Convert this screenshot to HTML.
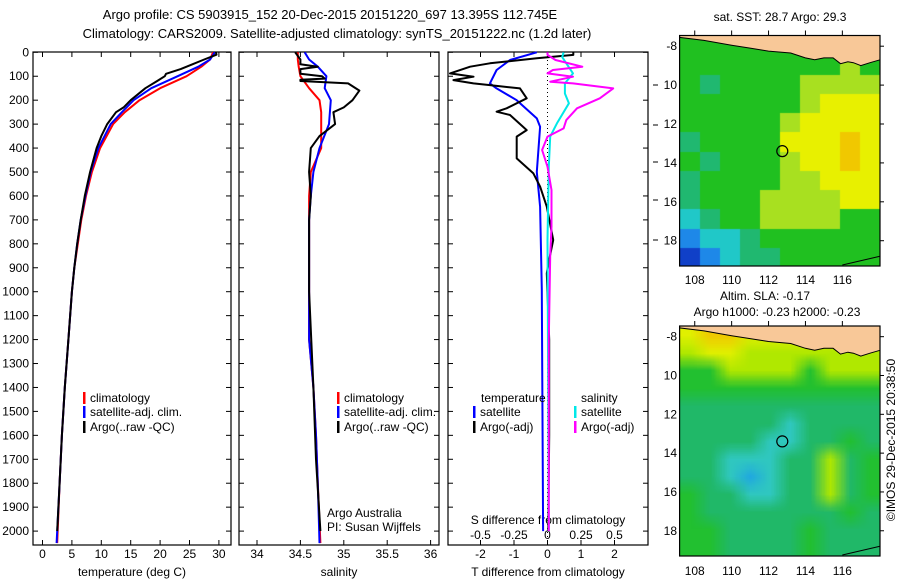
<!DOCTYPE html>
<html><head><meta charset="utf-8">
<style>
body{margin:0;background:#fff;}
svg{display:block;font-family:"Liberation Sans",sans-serif;}
text{fill:#000;}
</style></head>
<body>
<svg id="fig" width="900" height="580" viewBox="0 0 900 580">
<text x="330" y="19" font-size="13" text-anchor="middle">Argo profile: CS 5903915_152 20-Dec-2015 20151220_697 13.395S 112.745E</text>
<text x="337" y="38" font-size="13" text-anchor="middle">Climatology: CARS2009. Satellite-adjusted climatology: synTS_20151222.nc (1.2d later)</text>
<text x="780" y="21" font-size="12" text-anchor="middle">sat. SST: 28.7 Argo: 29.3</text>
<text x="765" y="300" font-size="12" text-anchor="middle">Altim. SLA: -0.17</text>
<text x="777" y="316" font-size="12" text-anchor="middle">Argo h1000: -0.23 h2000: -0.23</text>
<text transform="translate(895,440) rotate(-90)" font-size="12" text-anchor="middle">©IMOS 29-Dec-2015 20:38:50</text>
<g id="g"></g>
</svg>
<script>
// ---------- data ----------
const tempDepth = [0,10,30,50,70,90,100,120,150,200,230,250,300,350,400,500,600,700,800,900,1000,1200,1400,1600,1800,2000];
const tempArgo  = [29.5,29.6,27.5,25.5,23.5,21,20.8,19.5,17.5,15,13.8,12.5,11,10,9.2,8.1,7.2,6.5,5.9,5.4,5.0,4.4,3.8,3.3,2.9,2.5];
const climDepth = [0,30,60,100,150,200,250,300,400,500,600,700,800,900,1000,1200,1400,1600,1800,2050];
const tempClim  = [29,28.5,27,24.5,20,16.5,14,12,9.8,8.4,7.4,6.6,6.0,5.4,5.0,4.4,3.8,3.3,2.9,2.5];
const tempSat   = [29.3,28.5,26.5,23,18.5,15.5,13.5,11.6,9.5,8.2,7.3,6.5,5.9,5.4,5.0,4.4,3.8,3.3,2.9,2.4];
const salDepth = [0,30,50,60,70,90,100,110,115,120,130,160,200,230,250,300,350,400,500,600,700,1000,1400,1700,2000];
const salArgo  = [34.44,34.5,34.5,34.7,34.5,34.5,34.75,34.78,34.5,34.5,35.05,35.18,35.1,35.0,34.88,34.9,34.72,34.62,34.6,34.62,34.6,34.6,34.65,34.68,34.73];
const salClim  = [34.47,34.47,34.48,34.5,34.6,34.72,34.74,34.74,34.74,34.62,34.6,34.6,34.6,34.6,34.6,34.6,34.65,34.68,34.7,34.73];
const salSat   = [34.55,34.6,34.7,34.8,34.78,34.85,34.84,34.83,34.72,34.65,34.62,34.6,34.6,34.6,34.6,34.6,34.65,34.68,34.7,34.72];
const dtDepth = [0,11,25,46,60,88,102,116,130,137,151,192,234,248,262,325,352,443,506,561,645,784,854,923,1200,1600,2000];
const dtArgo  = [0.77,0.77,-0.32,-1.72,-2.31,-2.91,-2.21,-2.81,-2.21,-1.72,-0.82,-0.62,-1.22,-1.52,-1.12,-0.62,-0.92,-0.92,-0.42,-0.22,-0.02,0.17,0.07,-0.02,0.05,0.05,0.02];
const dtSatDepth = [0,32,74,130,151,200,276,311,500,645,990,2000];
const dtSat      = [-0.32,-1.12,-1.52,-1.72,-1.52,-0.92,-0.32,-0.22,-0.32,-0.22,-0.17,-0.13];
const dsSatDepth = [0,20,46,88,130,172,213,297,352,478,784,2000];
const dsSat      = [0.12,0.11,0.14,0.19,0.13,0.13,0.16,0.07,0.02,0.01,0.0,0.01];
const dsArgoDepth = [0,11,32,60,74,88,102,123,130,151,192,234,283,318,352,408,478,575,728,850,1200,2000];
const dsArgo      = [0.0,0.0,0.06,0.26,0.04,0.0,0.19,0.02,0.19,0.49,0.39,0.22,0.14,0.12,0.0,-0.04,0.0,0.03,0.03,0.02,0.01,0.01];
const depthTicks = [0,100,200,300,400,500,600,700,800,900,1000,1100,1200,1300,1400,1500,1600,1700,1800,1900,2000];
const tTicks = [0,5,10,15,20,25,30];
const sTicks = [34,34.5,35,35.5,36];
const sTickLabels = ["34","34.5","35","35.5","36"];
const dTTicks = [-2,-1,0,1,2];
const dSTicks = [-0.5,-0.25,0,0.25,0.5];
const dSTickLabels = ["-0.5","-0.25","0","0.25","0.5"];
const lonTicks = [108,110,112,114,116];
const latTicks = [-8,-10,-12,-14,-16,-18];
const latTickLabels = ["-8","10","12","14","16","18"];
const argoLon = 112.745, argoLat = -13.395;
const sstGrid = ["5555555555","5555555565","5455556666","5555556777","5555567777","4555577787","5455567787","4555566777","4555666677","3455666655","2334555555","1234455555"];
const slaGrid = ["7887777777","6776666666","5566665666","5555555555","4444444444","4444434444","4444334454","4433344645","4432344645","5443344645","5444444454","5544445444","5544445444"];
const sstPalette = ["#f8c898","#1040c8","#1e88e8","#20c8c8","#20b870","#20c020","#a8e020","#e8f000","#f0c800"];
const slaPalette = ["#f8c898","#1040c8","#20a8e0","#30c8c0","#20b868","#22c030","#b0e800","#e0f000","#f0c800"];

// ---------- scales ----------
const NS="http://www.w3.org/2000/svg";
const G=document.getElementById('g');
const yD=d=>52.3+d*0.2394;
const xT=v=>42.5+v*5.88;
const xS=v=>257+(v-34)*86.8;
const xD=v=>547.5+v*33.5;
const xSD=v=>547.5+v*134;
function mk(tag,attrs,parent){const e=document.createElementNS(NS,tag);for(const k in attrs)e.setAttribute(k,attrs[k]);(parent||G).appendChild(e);return e;}
function txt(x,y,s,size,anchor){const t=mk('text',{x:x,y:y,'font-size':size||12,'text-anchor':anchor||'start'});t.textContent=s;return t;}
function line(xs,ds,xf,color,w,name){
  const d=xs.map((v,i)=>(i?'L':'M')+xf(v).toFixed(1)+','+yD(ds[i]).toFixed(1)).join('');
  const p=mk('path',{d:d,fill:'none',stroke:color,'stroke-width':w||2,'stroke-linejoin':'round'});
  
  
  return p;
}
function panel(x0,x1,name){
  const r=mk('rect',{x:x0,y:52,width:x1-x0,height:493,fill:'none',stroke:'#000','stroke-width':1.2});
  
  
}
function xticks(vals,labels,xf,ylab,name){
  vals.forEach((v,i)=>{const x=xf(v);
    mk('line',{x1:x,x2:x,y1:52,y2:57,stroke:'#000'});
    mk('line',{x1:x,x2:x,y1:540,y2:545,stroke:'#000'});
    const t=txt(x,ylab,labels[i],12,'middle');
    
    
  });
}
function yticks(x0,x1){depthTicks.forEach(d=>{mk('line',{x1:x0,x2:x0+5,y1:yD(d),y2:yD(d),stroke:'#000'});mk('line',{x1:x1-5,x2:x1,y1:yD(d),y2:yD(d),stroke:'#000'});});}

// ---------- panel 1: temperature ----------
panel(33,231,'temperature-panel');
yticks(33,231);
depthTicks.forEach(d=>{const t=txt(29,yD(d)+4,String(d),12,'end');
  
  });
xticks(tTicks,tTicks.map(String),xT,558,'temperature-tick-label');
txt(132,576,'temperature (deg C)',12,'middle');
line(tempClim,climDepth,xT,'#ff0000',2,'temperature-climatology-line');
line(tempSat,climDepth,xT,'#0000ff',2,'temperature-satellite-line');
line(tempArgo,tempDepth,xT,'#000000',2,'temperature-argo-line');

// ---------- panel 2: salinity ----------
panel(239,439,'salinity-panel');
yticks(239,439);
xticks(sTicks,sTickLabels,xS,558,'salinity-tick-label');
txt(339,576,'salinity',12,'middle');
line(salClim,climDepth,xS,'#ff0000',2,'salinity-climatology-line');
line(salSat,climDepth,xS,'#0000ff',2,'salinity-satellite-line');
line(salArgo,salDepth,xS,'#000000',2,'salinity-argo-line');
txt(327,517,'Argo Australia',12);
txt(327,531,'PI: Susan Wijffels',12);

// ---------- panel 3: differences ----------
panel(448,648,'difference-panel');
yticks(448,648);
xticks(dTTicks,dTTicks.map(String),xD,558,'t-diff-tick-label');
dSTicks.forEach((v,i)=>{const t=txt(xSD(v),539,dSTickLabels[i],12,'middle');
  
  });
txt(548,524,'S difference from climatology',12,'middle');
txt(548,576,'T difference from climatology',12,'middle');
mk('line',{x1:xD(0),x2:xD(0),y1:52,y2:545,stroke:'#000','stroke-dasharray':'1,3'});
line(dtSat,dtSatDepth,xD,'#0000ff',2,'t-diff-satellite-line');
line(dtArgo,dtDepth,xD,'#000000',2,'t-diff-argo-line');
line(dsSat,dsSatDepth,xSD,'#00e8e8',2,'s-diff-satellite-line');
line(dsArgo,dsArgoDepth,xSD,'#ff00ff',2,'s-diff-argo-line');
[85,125,162,200,240].forEach(y=>mk('line',{x1:653,x2:658,y1:y,y2:y,stroke:'#000'}));

// legends
function legend(x,y,color,label,name){
  mk('rect',{x:x,y:y-10,width:2.5,height:12,fill:color});
  const t=txt(x+7,y,label,12);
  
  
}
legend(83,402,'#ff0000','climatology','legend-climatology');
legend(83,416,'#0000ff','satellite-adj. clim.','legend-satellite');
legend(83,431,'#000000','Argo(..raw -QC)','legend-argo');
legend(337,402,'#ff0000','climatology','legend-climatology-sal');
legend(337,416,'#0000ff','satellite-adj. clim.','legend-satellite-sal');
legend(337,431,'#000000','Argo(..raw -QC)','legend-argo-sal');
txt(481,402,'temperature',12);
txt(581,402,'salinity',12);
legend(473,416,'#0000ff','satellite','legend-t-satellite');
legend(473,431,'#000000','Argo(-adj)','legend-t-argo');
legend(574,416,'#00e8e8','satellite','legend-s-satellite');
legend(574,431,'#ff00ff','Argo(-adj)','legend-s-argo');

// ---------- maps ----------
const LON0=107.18, LON1=118.04, LAT0=-7.45, LAT1=-19.3;
function drawMap(top,bottom,grid,pal,smooth,name,lonLabelY){
  const left=679.6,right=880;
  const mx=lon=>left+(lon-LON0)/(LON1-LON0)*(right-left);
  const my=lat=>top+(lat-LAT0)/(LAT1-LAT0)*(bottom-top);
  const fo=mk('foreignObject',{x:left,y:top,width:right-left,height:bottom-top});
  
  
  const cv=document.createElement('canvas');
  const W=Math.round(right-left),H=Math.round(bottom-top);
  cv.width=W;cv.height=H;cv.style.display='block';
  fo.appendChild(cv);
  const ctx=cv.getContext('2d');
  const small=document.createElement('canvas');
  small.width=grid[0].length;small.height=grid.length;
  const sc=small.getContext('2d');
  grid.forEach((row,r)=>{[...row].forEach((c,k)=>{sc.fillStyle=pal[+c];sc.fillRect(k,r,1,1);});});
  ctx.imageSmoothingEnabled=smooth;
  ctx.drawImage(small,0,0,W,H);
  // land
  const land=[[107.18,-7.45],[107.18,-7.55],[108.5,-7.7],[110,-7.95],[111,-8.1],[112,-8.25],[113.2,-8.35],[114,-8.6],[114.5,-8.7],[115,-8.6],[115.5,-8.6],[115.9,-8.9],[116.3,-8.8],[116.6,-8.85],[117,-9.0],[117.5,-8.85],[118.04,-8.7],[118.04,-7.45]];
  const lp=mk('path',{d:land.map((p,i)=>(i?'L':'M')+mx(p[0]).toFixed(1)+','+my(p[1]).toFixed(1)).join('')+'Z',fill:'#f8c898',stroke:'#000','stroke-width':1});
  
  
  mk('path',{d:'M'+mx(116)+','+my(-19.25)+'L'+mx(118.04)+','+my(-18.8),fill:'none',stroke:'#000'});
  const c=mk('circle',{cx:mx(argoLon),cy:my(argoLat),r:5.5,fill:'none',stroke:'#000','stroke-width':1.2});
  
  
  mk('rect',{x:left,y:top,width:right-left,height:bottom-top,fill:'none',stroke:'#000','stroke-width':1.2});
  lonTicks.forEach(l=>{const x=mx(l);mk('line',{x1:x,x2:x,y1:top-5,y2:top,stroke:'#000'});
    const t=txt(x,lonLabelY,String(l),12,'middle');
    
    });
  latTicks.forEach((l,i)=>{const y=my(l);mk('line',{x1:right,x2:right+4,y1:y,y2:y,stroke:'#000'});
    const t=txt(677,y+4,latTickLabels[i],12,'end');
    
    });
}
drawMap(35.5,266,sstGrid,sstPalette,false,'sst-map',284);
drawMap(326,556,slaGrid,slaPalette,true,'sla-map',575);
</script>
</body></html>
